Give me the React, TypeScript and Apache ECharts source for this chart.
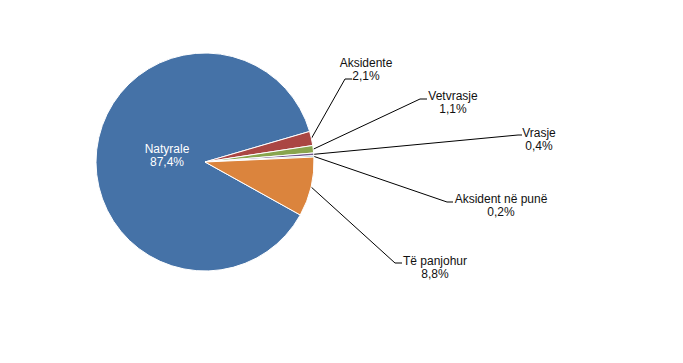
import React, { useEffect, useRef } from "react";
import * as echarts from "echarts";

const categories = ["Natyrale", "Aksidente", "Vetvrasje", "Vrasje", "Aksident në punë", "Të panjohur"];
const shares = [87.4, 2.1, 1.1, 0.4, 0.2, 8.8];
const colors = ["#4572A7", "#AA4643", "#89A54E", "#71588F", "#4198AF", "#DB843D"];

// label layout (pixel positions of label centres and leader-line bends)
const labelPos: { x: number; y: number; bend?: number[]; end?: number[] }[] = [
  { x: 167, y: 155 },
  { x: 366, y: 69, bend: [345, 79], end: [352, 79] },
  { x: 453, y: 102, bend: [420, 99], end: [427, 99] },
  { x: 539, y: 139, bend: [518, 135], end: [522, 135] },
  { x: 501, y: 205, bend: [447, 202], end: [453, 202] },
  { x: 435, y: 267, bend: [395, 263], end: [402, 263] },
];

const fmt = (v: number) => v.toFixed(1).replace(".", ",") + "%";

export default function App() {
  const ref = useRef<HTMLDivElement>(null);
  useEffect(() => {
    if (!ref.current) return;
    const chart = echarts.init(ref.current, undefined, { renderer: "svg" });
    const total = shares.reduce((a, b) => a + b, 0);
    const natyraleDeg = (shares[0] / total) * 360;
    // small slices and orange follow Natyrale clockwise; Natyrale ends at ~16.3° above horizontal
    const smallDeg = ((shares[1] + shares[2] + shares[3] + shares[4]) / total) * 360;
    const endNat = 2.6 + smallDeg;
    const startAngle = endNat + natyraleDeg;
    chart.setOption({
      animation: false,
      backgroundColor: "#ffffff",
      series: [
        {
          type: "pie",
          center: [205, 162],
          radius: [0, 109],
          startAngle: startAngle,
          clockwise: true,
          avoidLabelOverlap: false,
          itemStyle: { borderColor: "#ffffff", borderWidth: 1 },
          label: {
            show: true,
            position: "outside",
            color: "#111111",
            fontSize: 12,
            fontFamily: "Liberation Sans, Arial, sans-serif",
            lineHeight: 13,
            formatter: (p: any) => p.name + "\n" + fmt(p.value),
          },
          labelLine: {
            show: true,
            length: 10,
            length2: 10,
            lineStyle: { color: "#000000", width: 1 },
          },
          labelLayout: (params: any) => {
            const p = labelPos[params.dataIndex];
            const res: any = { x: p.x, y: p.y, align: "center", verticalAlign: "middle" };
            if (p.bend && params.labelLinePoints) {
              res.labelLinePoints = [params.labelLinePoints[0], p.bend, p.end];
            }
            return res;
          },
          data: categories.map((c, i) => ({
            name: c,
            value: shares[i],
            itemStyle: { color: colors[i] },
            ...(i === 0
              ? { label: { position: "inside", color: "#ffffff" }, labelLine: { show: false } }
              : {}),
          })),
        },
      ],
    });
    return () => chart.dispose();
  }, []);
  return (
    <div
      ref={ref}
      style={{ position: "fixed", left: 0, top: 0, width: 683, height: 363, background: "#fff" }}
    />
  );
}
